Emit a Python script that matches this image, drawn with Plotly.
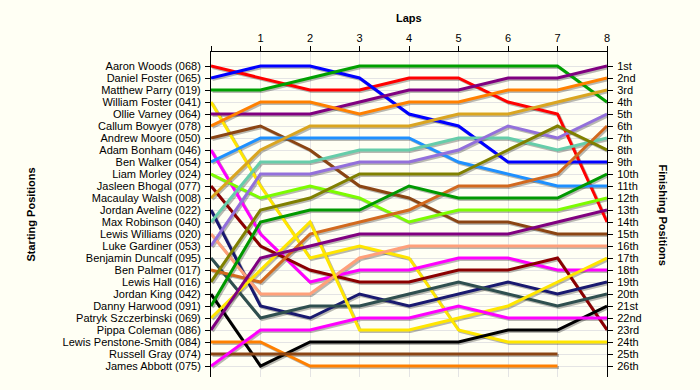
import plotly.graph_objects as go

laps = [0, 1, 2, 3, 4, 5, 6, 7, 8]

starting_labels = [
    "Aaron Woods (068)", "Daniel Foster (065)", "Matthew Parry (019)", "William Foster (041)",
    "Ollie Varney (064)", "Callum Bowyer (078)", "Andrew Moore (050)", "Adam Bonham (046)",
    "Ben Walker (054)", "Liam Morley (024)", "Jasleen Bhogal (077)", "Macaulay Walsh (008)",
    "Jordan Aveline (022)", "Max Robinson (040)", "Lewis Williams (020)", "Luke Gardiner (053)",
    "Benjamin Duncalf (095)", "Ben Palmer (017)", "Lewis Hall (016)", "Jordan King (042)",
    "Danny Harwood (091)", "Patryk Szczerbinski (069)", "Pippa Coleman (086)",
    "Lewis Penstone-Smith (084)", "Russell Gray (074)", "James Abbott (075)",
]

finishing_labels = [
    "1st", "2nd", "3rd", "4th", "5th", "6th", "7th", "8th", "9th", "10th", "11th", "12th", "13th",
    "14th", "15th", "16th", "17th", "18th", "19th", "20th", "21st", "22nd", "23rd", "24th", "25th", "26th",
]

# position of each driver after each lap (lap 0 = grid)
pos_aaron_woods = [1, 2, 3, 3, 2, 2, 4, 5, 14]
pos_daniel_foster = [2, 1, 1, 2, 5, 6, 9, 9, 9]
pos_matthew_parry = [3, 3, 2, 1, 1, 1, 1, 1, 4]
pos_william_foster = [4, 11, 17, 16, 17, 23, 24, 24, 24]
pos_ollie_varney = [5, 5, 5, 4, 3, 3, 2, 2, 1]
pos_callum_bowyer = [6, 4, 4, 5, 4, 4, 3, 3, 2]
pos_andrew_moore = [7, 6, 8, 11, 12, 14, 14, 15, 15]
pos_adam_bonham = [8, 15, 19, 18, 18, 17, 17, 18, 18]
pos_ben_walker = [9, 7, 7, 7, 7, 9, 10, 11, 11]
pos_liam_morley = [10, 12, 11, 12, 14, 13, 13, 13, 12]
pos_jasleen_bhogal = [11, 16, 18, 19, 19, 18, 18, 17, 23]
pos_macaulay_walsh = [12, 8, 6, 6, 6, 5, 5, 4, 3]
pos_jordan_aveline = [13, 21, 22, 20, 21, 20, 19, 20, 19]
pos_max_robinson = [14, 9, 9, 8, 8, 7, 7, 8, 7]
pos_lewis_williams = [15, 20, 20, 17, 16, 16, 16, 16, 16]
pos_luke_gardiner = [16, 10, 10, 9, 9, 8, 6, 7, 5]
pos_benjamin_duncalf = [17, 22, 21, 21, 20, 19, 20, 21, 20]
pos_ben_palmer = [18, 19, 15, 14, 13, 11, 11, 10, 6]
pos_lewis_hall = [19, 13, 12, 10, 10, 10, 8, 6, 8]
pos_jordan_king = [20, 26, 24, 24, 24, 24, 23, 23, 21]
pos_danny_harwood = [21, 14, 13, 13, 11, 12, 12, 12, 10]
pos_patryk_szczerbinski = [22, 18, 14, 23, 23, 22, 21, 19, 17]
pos_pippa_coleman = [23, 17, 16, 15, 15, 15, 15, 14, 13]
pos_lewis_penstone_smith = [24, 24, 26, 26, 26, 26, 26, 26, None]
pos_russell_gray = [25, 25, 25, 25, 25, 25, 25, 25, None]
pos_james_abbott = [26, 23, 23, 22, 22, 21, 22, 22, 22]

positions = [
    pos_aaron_woods, pos_daniel_foster, pos_matthew_parry, pos_william_foster, pos_ollie_varney,
    pos_callum_bowyer, pos_andrew_moore, pos_adam_bonham, pos_ben_walker, pos_liam_morley,
    pos_jasleen_bhogal, pos_macaulay_walsh, pos_jordan_aveline, pos_max_robinson,
    pos_lewis_williams, pos_luke_gardiner, pos_benjamin_duncalf, pos_ben_palmer, pos_lewis_hall,
    pos_jordan_king, pos_danny_harwood, pos_patryk_szczerbinski, pos_pippa_coleman,
    pos_lewis_penstone_smith, pos_russell_gray, pos_james_abbott,
]

colors = [
    "#ff0000", "#0000ff", "#00a000", "#ffe600", "#800080", "#ff8000", "#8b4513", "#ff00ff",
    "#1e90ff", "#7cfc00", "#8b0000", "#daa520", "#191970", "#66cdaa", "#ffa07a", "#9370db",
    "#2f4f4f", "#d2691e", "#808000", "#000000", "#009900", "#ffe600", "#800080", "#ff8000",
    "#8b4513", "#ff00ff",
]

BG = "#fffff4"
FONT = "Liberation Sans, Arial, sans-serif"

# plot geometry (px) used only for the drop-shadow offset
px_per_lap = 49.5
px_per_row = 12.0
shadow_dx = 1.5 / px_per_lap
shadow_dy = 1.5 / px_per_row

fig = go.Figure()

# shadows first
for name, pos in zip(starting_labels, positions):
    fig.add_trace(go.Scatter(
        x=[l + shadow_dx for l in laps],
        y=[(p + shadow_dy) if p is not None else None for p in pos],
        mode="lines", line=dict(color="rgba(0,0,0,0.28)", width=3),
        hoverinfo="skip", showlegend=False,
    ))

for name, pos, c in zip(starting_labels, positions, colors):
    fig.add_trace(go.Scatter(
        x=laps, y=pos, mode="lines", name=name,
        line=dict(color=c, width=3), showlegend=False,
    ))

# dummy trace for right axis
fig.add_trace(go.Scatter(x=[None], y=[None], yaxis="y2", showlegend=False, hoverinfo="skip"))

n = len(starting_labels)
yrange = [n + 11 / 12, 1 - 14 / 12]

fig.update_layout(
    template="none",
    width=700, height=390,
    margin=dict(l=211, r=93, t=52, b=13, autoexpand=False),
    paper_bgcolor=BG, plot_bgcolor=BG,
    font=dict(family=FONT, size=11, color="#000000"),
    xaxis=dict(
        side="top", range=[0, 8], tickvals=laps,
        ticktext=[""] + [str(l) for l in laps[1:]],
        ticks="outside", ticklen=5, tickcolor="#000", tickwidth=1,
        showline=True, linecolor="#000", linewidth=1,
        showgrid=True, gridcolor="#e4e4e4", gridwidth=1, zeroline=False,
        tickfont=dict(size=11, family=FONT), automargin=False,
    ),
    yaxis=dict(
        range=yrange, tickvals=list(range(1, n + 1)), ticktext=starting_labels,
        ticks="outside", ticklen=5, tickcolor="#000", tickwidth=1,
        showline=True, linecolor="#000", linewidth=1,
        showgrid=True, gridcolor="#e4e4e4", gridwidth=1, zeroline=False,
        tickfont=dict(size=11, family=FONT), ticklabelstandoff=2, automargin=False,
    ),
    yaxis2=dict(
        range=yrange, overlaying="y", side="right",
        tickvals=list(range(1, n + 1)), ticktext=finishing_labels,
        ticks="outside", ticklen=5, tickcolor="#000", tickwidth=1,
        showline=True, linecolor="#000", linewidth=1,
        showgrid=False, zeroline=False,
        tickfont=dict(size=11, family=FONT), ticklabelstandoff=2, automargin=False,
    ),
    annotations=[
        dict(text="<b>Laps</b>", xref="paper", yref="paper", x=0.5, y=1,
             yshift=42, showarrow=False, font=dict(size=11, family=FONT)),
        dict(text="<b>Starting Positions</b>", xref="paper", yref="paper", x=0, y=0.5,
             xshift=-189, textangle=-90, showarrow=False, font=dict(size=11, family=FONT)),
        dict(text="<b>Finishing Positions</b>", xref="paper", yref="paper", x=1, y=0.5,
             xshift=64, textangle=90, showarrow=False, font=dict(size=11, family=FONT)),
    ],
)

fig.write_html(
    "out.html",
    config={"displayModeBar": False},
    post_script="document.body.style.margin='0px';document.body.style.background='" + BG + "';",
)
